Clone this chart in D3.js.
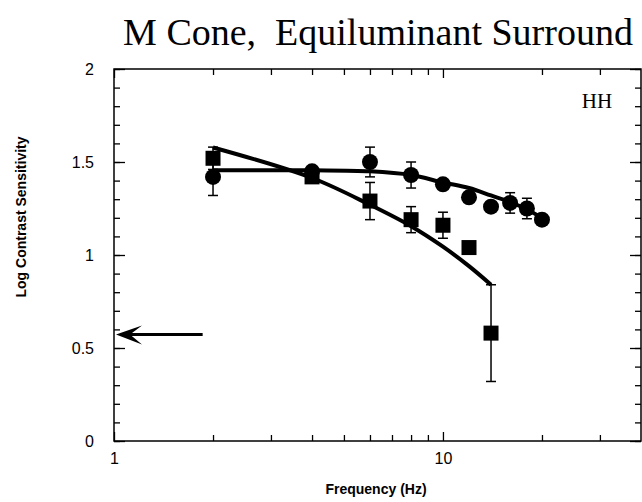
<!DOCTYPE html>
<html>
<head>
<meta charset="utf-8">
<script src="https://cdn.jsdelivr.net/npm/d3@7"></script>
<style>
  body { margin: 0; background: #fff; }
  svg { display: block; }
  .tick text { font-family: "Liberation Sans", Arial, sans-serif; font-size: 16px; fill: #000; }
  .axis-title { font-family: "Liberation Sans", Arial, sans-serif; font-weight: bold; font-size: 14px; }
</style>
</head>
<body>
<svg id="chart"></svg>
<script>
// M cone data (circles) and fits
const circleFreq = [2, 4, 6, 8, 10, 12, 14, 16, 18, 20];
const circleSens = [1.42, 1.45, 1.50, 1.43, 1.38, 1.31, 1.26, 1.28, 1.25, 1.19];
const circleErr  = [0.10, 0, 0.08, 0.07, 0, 0, 0, 0.055, 0.055, 0];

const squareFreq = [2, 4, 6, 8, 10, 12, 14];
const squareSens = [1.52, 1.42, 1.29, 1.19, 1.16, 1.04, 0.58];
const squareErr  = [0.06, 0, 0.10, 0.07, 0.07, 0, 0.26];

const circleFitFreq = [2, 4, 6, 8, 10, 12, 14, 16, 18, 20];
const circleFitSens = [1.455, 1.455, 1.45, 1.43, 1.39, 1.36, 1.32, 1.285, 1.245, 1.20];
const squareFitFreq = [2, 4, 6, 8, 10, 12, 14];
const squareFitSens = [1.578, 1.414, 1.27, 1.155, 1.045, 0.94, 0.84];

// arrow marking the threshold level
const arrowLevel = 0.572;
const arrowFrom = 1.86;

const xMajor = [1, 10];
const xMinor = [2, 3, 4, 5, 6, 7, 8, 9, 20, 30];
const yMajor = [0, 0.5, 1, 1.5, 2];
const yMinor = d3.range(0, 2.001, 0.1);

const title = 'M Cone,  Equiluminant Surround';
const subject = 'HH';

const width = 642, height = 502;
const margin = {top: 69, right: 1, bottom: 61, left: 114};

const svg = d3.select('#chart')
  .attr('width', width)
  .attr('height', height);

const x = d3.scaleLog()
  .domain([1, 40])
  .range([margin.left, width - margin.right]);

const y = d3.scaleLinear()
  .domain([0, 2])
  .range([height - margin.bottom, margin.top]);

// axes, all ticks point inward
function addAxis(axis, transform) {
  const g = svg.append('g').attr('transform', transform).call(axis);
  g.select('.domain').remove();
  g.selectAll('.tick line').attr('stroke', '#000').attr('stroke-width', 1.3);
  return g;
}

const atBottom = `translate(0,${height - margin.bottom})`;
const atTop = `translate(0,${margin.top})`;
const atLeft = `translate(${margin.left},0)`;
const atRight = `translate(${width - margin.right},0)`;

addAxis(d3.axisBottom(x).tickValues(xMinor).tickSize(-6).tickFormat(''), atBottom);
addAxis(d3.axisBottom(x).tickValues(xMajor).tickSize(-9).tickPadding(12).tickFormat(d3.format('d')), atBottom);
addAxis(d3.axisTop(x).tickValues(xMinor).tickSize(-6).tickFormat(''), atTop);
addAxis(d3.axisTop(x).tickValues(xMajor).tickSize(-9).tickFormat(''), atTop);

addAxis(d3.axisLeft(y).tickValues(yMinor).tickSize(-6).tickFormat(''), atLeft);
addAxis(d3.axisLeft(y).tickValues(yMajor).tickSize(-11).tickPadding(20).tickFormat(d => String(d)), atLeft);
addAxis(d3.axisRight(y).tickValues(yMinor).tickSize(-6).tickFormat(''), atRight);
addAxis(d3.axisRight(y).tickValues(yMajor).tickSize(-11).tickFormat(''), atRight);

// frame
svg.append('rect')
  .attr('x', x(1)).attr('y', y(2))
  .attr('width', x(40) - x(1)).attr('height', y(0) - y(2))
  .attr('fill', 'none').attr('stroke', '#000').attr('stroke-width', 1.5);

// axis titles
svg.append('text')
  .attr('class', 'axis-title')
  .attr('x', 376)
  .attr('y', 494)
  .attr('text-anchor', 'middle')
  .text('Frequency (Hz)');

svg.append('text')
  .attr('class', 'axis-title')
  .attr('transform', `translate(26,${(y(0) + y(2)) / 2 - 38}) rotate(-90)`)
  .attr('text-anchor', 'middle')
  .text('Log Contrast Sensitivity');

svg.append('text')
  .attr('x', 378).attr('y', 45)
  .attr('text-anchor', 'middle')
  .style('font-family', '"Liberation Serif", "Times New Roman", serif')
  .style('font-size', '38px')
  .style('white-space', 'pre')
  .text(title);

svg.append('text')
  .attr('x', 597).attr('y', 108)
  .attr('text-anchor', 'middle')
  .style('font-family', '"Liberation Serif", "Times New Roman", serif')
  .style('font-size', '21px')
  .text(subject);

// fitted curves
const line = d3.line()
  .x(d => x(d[0]))
  .y(d => y(d[1]))
  .curve(d3.curveCatmullRom);

svg.append('path')
  .datum(d3.zip(circleFitFreq, circleFitSens))
  .attr('d', line)
  .attr('fill', 'none').attr('stroke', '#000').attr('stroke-width', 4);

svg.append('path')
  .datum(d3.zip(squareFitFreq, squareFitSens))
  .attr('d', line)
  .attr('fill', 'none').attr('stroke', '#000').attr('stroke-width', 4);

// error bars
function errorBars(freq, sens, err) {
  const data = d3.zip(freq, sens, err).filter(d => d[2] > 0);
  const g = svg.append('g').attr('stroke', '#000').attr('stroke-width', 1.5);
  g.selectAll('line.stem').data(data).join('line')
    .attr('class', 'stem')
    .attr('x1', d => x(d[0])).attr('x2', d => x(d[0]))
    .attr('y1', d => y(d[1] - d[2])).attr('y2', d => y(d[1] + d[2]));
  g.selectAll('line.capTop').data(data).join('line')
    .attr('class', 'capTop')
    .attr('x1', d => x(d[0]) - 5).attr('x2', d => x(d[0]) + 5)
    .attr('y1', d => y(d[1] + d[2])).attr('y2', d => y(d[1] + d[2]));
  g.selectAll('line.capBot').data(data).join('line')
    .attr('class', 'capBot')
    .attr('x1', d => x(d[0]) - 5).attr('x2', d => x(d[0]) + 5)
    .attr('y1', d => y(d[1] - d[2])).attr('y2', d => y(d[1] - d[2]));
}
errorBars(squareFreq, squareSens, squareErr);
errorBars(circleFreq, circleSens, circleErr);

// markers
svg.append('g').selectAll('rect')
  .data(d3.zip(squareFreq, squareSens))
  .join('rect')
  .attr('x', d => x(d[0]) - 7.5)
  .attr('y', d => y(d[1]) - 7.5)
  .attr('width', 15).attr('height', 15)
  .attr('fill', '#000');

svg.append('g').selectAll('circle')
  .data(d3.zip(circleFreq, circleSens))
  .join('circle')
  .attr('cx', d => x(d[0]))
  .attr('cy', d => y(d[1]))
  .attr('r', 8)
  .attr('fill', '#000');

// threshold arrow
const ay = y(arrowLevel), ax = x(1) + 2;
svg.append('line')
  .attr('x1', x(arrowFrom)).attr('x2', ax + 10)
  .attr('y1', ay).attr('y2', ay)
  .attr('stroke', '#000').attr('stroke-width', 3);
svg.append('path')
  .attr('d', `M${ax},${ay} L${ax + 26},${ay - 9} L${ax + 14},${ay} L${ax + 26},${ay + 10} Z`)
  .attr('fill', '#000');
</script>
</body>
</html>
